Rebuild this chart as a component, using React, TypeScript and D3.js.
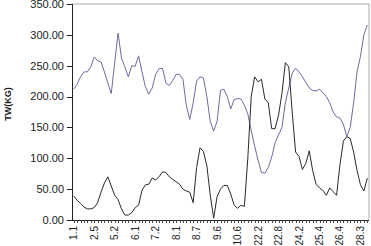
import React from "react";
import * as d3 from "d3";

const tickLabels = ["1.1","2.5","5.2","6.1","7.2","8.1","8.7","9.6","10.6","22.2","22.8","24.2","25.4","26.4","28.3"];
const labelEvery = 6;
const yTicks = [0, 50, 100, 150, 200, 250, 300, 350];

const seriesBlue = [
  212,220,232,240,240,248,264,258,256,240,
  222,205,255,303,262,248,232,250,249,266,
  240,216,204,214,236,245,246,222,218,226,
  236,236,228,185,163,190,225,232,230,200,
  160,144,160,210,212,200,180,195,197,196,
  186,172,145,120,97,77,76,85,102,125,
  138,150,190,214,238,246,240,232,223,214,
  210,209,212,206,200,190,175,167,165,155,
  135,150,190,240,265,300,316
];
const seriesBlack = [
  39,32,27,21,18,18,20,28,45,60,
  70,55,40,33,18,8,8,12,20,24,
  48,57,58,68,65,70,78,77,70,66,
  62,58,50,47,45,28,85,117,111,88,
  40,3,38,50,56,56,42,24,19,24,
  22,100,200,232,224,228,196,190,148,148,
  170,205,255,248,175,110,103,82,92,112,
  80,58,52,48,40,52,46,40,90,128,
  135,132,110,80,57,47,68
];

const W = 371, H = 246;
const M = { left: 72, right: 2, top: 4, bottom: 26 };

export default function App() {
  const n = seriesBlue.length;
  const idx = d3.range(n);
  const x = d3.scaleBand<number>().domain(idx).range([M.left, W - M.right]);
  const y = d3.scaleLinear().domain([0, 350]).range([H - M.bottom, M.top]);
  const cx = (i: number) => (x(i) as number) + x.bandwidth() / 2;
  const line = d3.line<number>().x((_, i) => cx(i)).y((d) => y(d));
  const font = "'Liberation Sans', Arial, sans-serif";
  const x0 = M.left, x1 = W - M.right, y0 = H - M.bottom, y1 = M.top;
  return (
    <svg width={W} height={H} style={{ position: "absolute", left: 0, top: 0, background: "#fff" }}>
      <line x1={x0} x2={x1} y1={y1} y2={y1} stroke="#aaa" strokeWidth={1} />
      <line x1={x1} x2={x1} y1={y1} y2={y0} stroke="#aaa" strokeWidth={1} />
      <path d={line(seriesBlue) || ""} fill="none" stroke="#6c6c9e" strokeWidth={1} />
      <path d={line(seriesBlack) || ""} fill="none" stroke="#2a2a2a" strokeWidth={1} />
      <line x1={x0 + 0.5} x2={x0 + 0.5} y1={y1} y2={y0} stroke="#222" />
      <line x1={x0} x2={x1} y1={y0 + 0.5} y2={y0 + 0.5} stroke="#222" />
      {yTicks.map((t) => (
        <g key={t}>
          <line x1={x0 - 5} x2={x0} y1={Math.round(y(t)) + 0.5} y2={Math.round(y(t)) + 0.5} stroke="#222" />
          <text x={x0 - 8} y={y(t)} dy="0.35em" textAnchor="end" fontFamily={font} fontSize={11} fill="#222">
            {t.toFixed(2)}
          </text>
        </g>
      ))}
      {idx.map((i) => (
        <line key={i} x1={Math.round(cx(i)) + 0.5} x2={Math.round(cx(i)) + 0.5} y1={y0} y2={y0 + 3} stroke="#444" />
      ))}
      {tickLabels.map((lab, k) => {
        const px = cx(k * labelEvery);
        return (
          <text key={lab} transform={`translate(${px},${y0 + 6}) rotate(-90)`} dy="0.35em" textAnchor="end"
            fontFamily={font} fontSize={10} fill="#222">
            {lab}
          </text>
        );
      })}
      <text transform={`translate(8,104) rotate(-90)`} dy="0.35em" textAnchor="middle" fontFamily={font}
        fontSize={9} fontWeight="bold" fill="#222">
        TW(KG)
      </text>
    </svg>
  );
}
